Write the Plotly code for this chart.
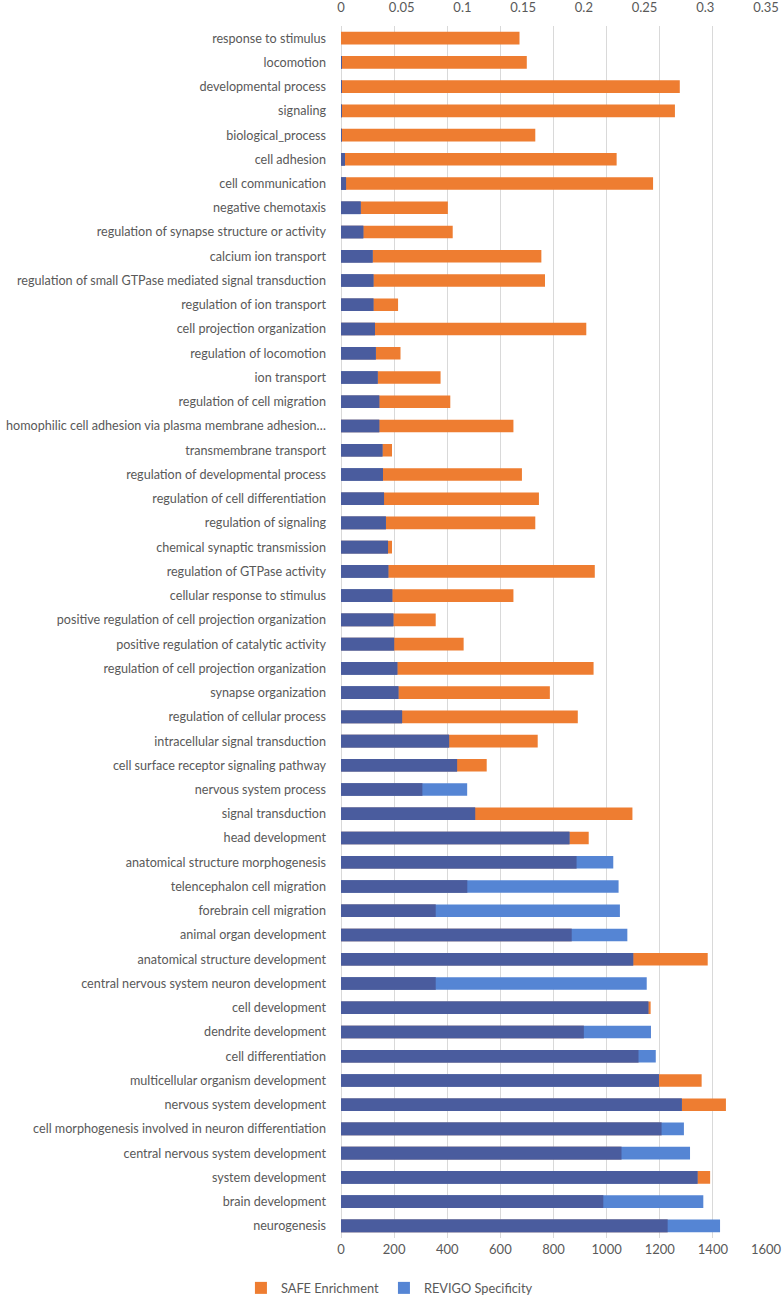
import plotly.graph_objects as go

categories = [
    "response to stimulus", "locomotion", "developmental process", "signaling",
    "biological_process", "cell adhesion", "cell communication", "negative chemotaxis",
    "regulation of synapse structure or activity", "calcium ion transport",
    "regulation of small GTPase mediated signal transduction", "regulation of ion transport",
    "cell projection organization", "regulation of locomotion", "ion transport",
    "regulation of cell migration", "homophilic cell adhesion via plasma membrane adhesion…",
    "transmembrane transport", "regulation of developmental process",
    "regulation of cell differentiation", "regulation of signaling",
    "chemical synaptic transmission", "regulation of GTPase activity",
    "cellular response to stimulus", "positive regulation of cell projection organization",
    "positive regulation of catalytic activity", "regulation of cell projection organization",
    "synapse organization", "regulation of cellular process",
    "intracellular signal transduction", "cell surface receptor signaling pathway",
    "nervous system process", "signal transduction", "head development",
    "anatomical structure morphogenesis", "telencephalon cell migration",
    "forebrain cell migration", "animal organ development",
    "anatomical structure development", "central nervous system neuron development",
    "cell development", "dendrite development", "cell differentiation",
    "multicellular organism development", "nervous system development",
    "cell morphogenesis involved in neuron differentiation",
    "central nervous system development", "system development", "brain development",
    "neurogenesis",
]

safe_enrichment = [
    0.147, 0.153, 0.279, 0.275, 0.160, 0.227, 0.257, 0.088, 0.092, 0.165,
    0.168, 0.047, 0.202, 0.049, 0.082, 0.090, 0.142, 0.042, 0.149, 0.163,
    0.160, 0.042, 0.209, 0.142, 0.078, 0.101, 0.208, 0.172, 0.195, 0.162,
    0.120, 0.067, 0.240, 0.204, 0.194, 0.104, 0.078, 0.190, 0.302, 0.078,
    0.255, 0.200, 0.245, 0.297, 0.317, 0.264, 0.231, 0.304, 0.216, 0.269,
]

revigo_specificity = [
    0, 1, 1, 2, 3, 15, 19, 74, 84, 119,
    122, 122, 128, 131, 138, 144, 144, 156, 158, 162,
    169, 177, 178, 193, 197, 200, 212, 216, 230, 407,
    437, 475, 505, 860, 1025, 1045, 1050, 1078, 1100, 1151,
    1157, 1167, 1185, 1197, 1283, 1291, 1314, 1342, 1364, 1427,
]

SAFE_MAX = 0.35
REVIGO_MAX = 1600

# overlapping portion of the two bars, expressed in REVIGO axis units
overlap = [min(r, s * REVIGO_MAX / SAFE_MAX) for s, r in zip(safe_enrichment, revigo_specificity)]

ORANGE = "#EE7D31"
BLUE = "#5585D4"
DARK = "#4A5C9E"
TXT = "#595959"
FONT = "Lato, Carlito, Calibri, sans-serif"
BW = 0.52
LBL = 12.6

fig = go.Figure()
fig.add_trace(go.Bar(
    y=categories, x=safe_enrichment, orientation="h", xaxis="x", yaxis="y",
    name="SAFE Enrichment", marker=dict(color=ORANGE, line=dict(width=0)), width=BW,
))
fig.add_trace(go.Bar(
    y=categories, x=revigo_specificity, orientation="h", xaxis="x2", yaxis="y",
    name="REVIGO Specificity", marker=dict(color=BLUE, line=dict(width=0)), width=BW,
))
fig.add_trace(go.Bar(
    y=categories, x=overlap, orientation="h", xaxis="x2", yaxis="y",
    name="overlap", showlegend=False, marker=dict(color=DARK, line=dict(width=0)), width=BW,
))

fig.update_layout(
    width=782, height=1297,
    margin=dict(l=341, r=16, t=26, b=59, autoexpand=False),
    paper_bgcolor="white", plot_bgcolor="white",
    barmode="overlay",
    font=dict(family=FONT, size=13, color=TXT),
    showlegend=True,
    legend=dict(
        orientation="h", xref="container", yref="paper",
        x=0.498, xanchor="center", y=-0.0413, yanchor="middle",
        font=dict(family=FONT, size=12.8, color=TXT),
        itemwidth=30, traceorder="normal",
    ),
    xaxis=dict(
        side="top", range=[0, SAFE_MAX], dtick=0.05, tick0=0,
        showgrid=False, zeroline=False, showline=False, ticks="",
        ticklabelstandoff=10, automargin=False,
        tickfont=dict(family=FONT, size=13, color=TXT),
    ),
    xaxis2=dict(
        overlaying="x", side="bottom", range=[0, REVIGO_MAX], dtick=200, tick0=0,
        showgrid=True, gridcolor="#D9D9D9", gridwidth=1,
        zeroline=True, zerolinecolor="#D9D9D9", zerolinewidth=1,
        showline=False, ticks="", automargin=False, ticklabelstandoff=2,
        tickfont=dict(family=FONT, size=13, color=TXT),
    ),
    yaxis=dict(
        autorange="reversed", categoryorder="array", categoryarray=categories,
        showgrid=False, zeroline=False, showline=False, ticks="",
        ticklabelstandoff=14, automargin=False,
        tickfont=dict(family=FONT, size=LBL, color=TXT),
    ),
)

# remove the browser's default page margin so the figure fills the window exactly
fig.write_html(
    "out.html",
    config={"displayModeBar": False},
    post_script="document.body.style.margin='0';document.body.style.padding='0';",
)
